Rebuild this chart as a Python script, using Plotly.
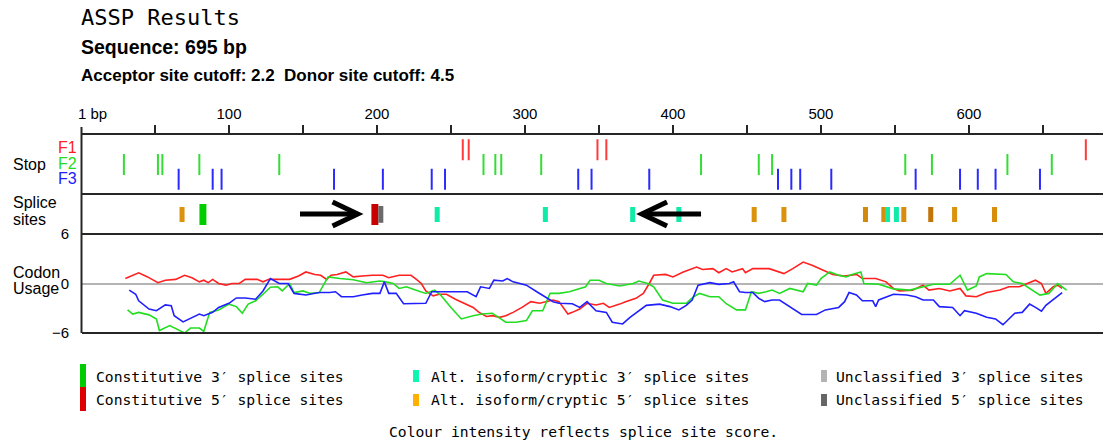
import plotly.graph_objects as go

# ---------------- data ----------------
seq_len = 695
acceptor_cutoff = 2.2
donor_cutoff = 4.5

tick_vals = [50, 100, 150, 200, 250, 300, 350, 400, 450, 500, 550, 600, 650]
tick_text = ["", "100", "", "200", "", "300", "", "400", "", "500", "", "600", ""]

# stop codon positions (bp) in each frame
stop_f1 = [258, 262, 349, 355, 679]
stop_f2 = [29, 52, 55, 80, 134, 272, 280, 284, 311, 419, 458, 467, 557, 575, 626, 656]
stop_f3 = [66, 89, 95, 171, 204, 237, 246, 336, 345, 384, 471, 480, 486, 507, 564,
           594, 606, 618, 648]

# splice sites (bp)
const3_pos = [82.4]
const5_pos = [198.6]
alt3_pos = [240.7, 313.8, 372.8, 404.0, 545.0, 551.0]
alt5_pos = [68.3, 454.9, 475.0, 530.1, 542.5, 556.0, 574.2, 590.3, 617.3]
alt5_score = [0.3, 0.3, 0.3, 0.5, 0.4, 0.4, 0.9, 0.3, 0.4]
uncl5_pos = [202.6]

# codon usage (bp, score) per frame
codon_f1 = [(30, 0.6), (39, 1.3), (45, 0.8), (52, 0.1), (57, 0.4), (64, 0.5), (70, 1.0),
            (75, 0.7), (80, 0.2), (83, 0.4), (86, 0.1), (89, 0.5), (93, 0.0), (98, -0.2),
            (102, 0.0), (107, 0.0), (111, 0.5), (119, 0.5), (123, 0.2), (127, 0.5),
            (141, 0.5), (147, 0.9), (152, 1.4), (158, 1.1), (162, 1.0), (166, 0.5),
            (169, 1.0), (173, 1.1), (179, 1.4), (184, 0.8), (190, 0.9), (197, 1.0),
            (204, 1.0), (208, 0.7), (215, 1.0), (223, 1.0), (226, 0.6), (230, 0.0),
            (233, -0.9), (238, -1.5), (242, -1.3), (247, -1.3), (253, -1.9), (260, -2.5),
            (265, -2.9), (269, -3.5), (274, -4.0), (278, -3.9), (283, -4.1), (287, -3.9),
            (292, -3.5), (298, -2.9), (304, -2.2), (310, -2.4), (314, -2.2), (319, -2.0),
            (323, -2.2), (327, -3.3), (329, -3.7), (332, -3.5), (337, -3.1), (342, -2.4),
            (348, -2.6), (353, -2.4), (357, -2.9), (364, -2.5), (368, -2.2), (375, -1.8),
            (380, -1.2), (384, 0.0), (387, 1.0), (395, 1.1), (400, 0.8), (407, 1.4),
            (416, 2.0), (420, 1.7), (427, 1.8), (431, 1.3), (436, 1.8), (440, 1.4),
            (447, 1.8), (449, 1.3), (454, 1.8), (465, 1.8), (470, 1.5), (475, 1.2),
            (481, 1.8), (488, 2.6), (494, 2.2), (501, 1.6), (508, 1.1), (516, 0.9),
            (524, 1.1), (528, 0.6), (537, 0.6), (544, 0.2), (549, -0.6), (553, -0.9),
            (562, -0.8), (569, -0.2), (573, -0.8), (580, -0.6), (587, -0.9), (594, -0.6),
            (598, -1.5), (605, -1.6), (612, -1.1), (621, -0.8), (627, -0.4), (634, -0.4),
            (639, 0.0), (645, 0.4), (649, 0.0), (652, -1.2), (657, -0.4), (660, -0.2),
            (663, -0.6)]
codon_f2 = [(31.5, -3.2), (35, -3.7), (39, -3.5), (46, -3.8), (51, -4.3), (53, -5.7),
            (60, -5.1), (64, -5.5), (70, -6.0), (74, -5.4), (80, -5.4), (83, -5.8),
            (87, -3.5), (93, -3.2), (100, -2.5), (105, -2.8), (109, -3.6), (113, -2.5),
            (118, -2.1), (123, -1.3), (128, -0.45), (133, -0.4), (136, -0.9), (141, 0.0),
            (144, -1.1), (150, -0.9), (155, -1.2), (161, -1.1), (167, 0.8), (175, 0.6),
            (184, 0.45), (193, 0.1), (202, 0.3), (206, 0.2), (211, 0.0), (215, -0.6),
            (220, -0.4), (226, -0.8), (233, -1.2), (239, -0.8), (243, -1.4), (250, -2.9),
            (257, -4.3), (265, -3.9), (271, -3.7), (278, -3.6), (282, -4.1), (287, -4.7),
            (294, -4.7), (301, -4.5), (305, -3.3), (312, -3.3), (317, -1.2), (323, -1.2),
            (330, -1.0), (337, -0.6), (341, -0.4), (344, 0.4), (350, 0.4), (355, 0.0),
            (364, -0.3), (373, 0.0), (377, 0.3), (383, 0.0), (387, -0.4), (393, -2.0),
            (400, -2.4), (409, -2.4), (414, -1.6), (418, -1.2), (425, -1.6), (431, -1.6),
            (436, -2.45), (443, -3.2), (449, -3.2), (453, -1.0), (458, -1.2), (463, -1.0),
            (467, -0.8), (472, -1.2), (479, -0.6), (488, -1.0), (491, 0.0), (497, -0.2),
            (500, 0.6), (506, 1.4), (512, 1.0), (517, 0.8), (521, 1.1), (527, 1.4),
            (529, 0.0), (539, -0.1), (549, -0.65), (560, -0.8), (569, -0.4), (576, -0.1),
            (587, -0.1), (594, 1.0), (599, -0.8), (605, -0.3), (607, 0.8), (612, 1.2),
            (625, 1.1), (630, 0.2), (636, 0.0), (641, -0.6), (648, -1.4), (654, -1.2),
            (660, 0.0), (666, -0.8)]
codon_f3 = [(32.6, -0.8), (37, -1.3), (39, -2.1), (46, -3.1), (51, -3.3), (57, -2.6),
            (61, -2.7), (63, -3.9), (69, -4.65), (75, -4.1), (80, -3.7), (83, -3.9),
            (89, -3.5), (93, -2.9), (100, -2.4), (105, -1.75), (111, -1.75), (118, -1.9),
            (123, -0.9), (128, 0.6), (134, 0.0), (140, 0.0), (144, -1.2), (152, -1.4),
            (161, -1.1), (168, -1.1), (172, -1.0), (176, -1.6), (184, -1.6), (190, -1.4),
            (197, -1.2), (202, -1.2), (205, 0.2), (208, -1.2), (213, -1.2), (218, -2.45),
            (226, -2.45), (233, -2.4), (237, -1.0), (241, -1.0), (253, -1.0), (261, -1.0),
            (267, -1.6), (270, -0.4), (276, -0.6), (279, 0.4), (285, 0.3), (288, 0.6),
            (292, 0.2), (301, -0.2), (308, -1.0), (314, -1.6), (319, -2.2), (323, -2.4),
            (332, -2.45), (337, -2.9), (342, -2.2), (348, -3.3), (355, -3.5), (359, -4.7),
            (366, -4.9), (371, -4.1), (377, -3.3), (382, -2.65), (391, -2.5), (398, -2.8),
            (404, -3.2), (409, -2.65), (413, -2.0), (417, -0.2), (425, 0.1), (431, -0.1),
            (438, 0.0), (441, 0.2), (445, -1.0), (449, -1.1), (454, -1.1), (458, -1.8),
            (462, -2.2), (467, -2.0), (472, -2.0), (476, -2.45), (481, -3.1), (487, -3.75),
            (497, -3.75), (500, -3.5), (503, -3.2), (512, -2.9), (516, -2.2), (519, -1.1),
            (524, -1.4), (528, -2.1), (535, -2.1), (537, -2.8), (539, -2.0), (549, -1.3),
            (558, -1.4), (564, -1.6), (569, -2.0), (576, -2.0), (580, -2.8), (589, -2.9),
            (594, -3.9), (597, -3.3), (605, -3.6), (612, -4.1), (618, -4.3), (623, -5.0),
            (626, -4.5), (631, -3.6), (636, -3.5), (641, -2.5), (645, -2.9), (649, -3.35),
            (652, -2.65), (659, -1.6), (663, -1.1)]

# annotation arrows (tail bp, tip bp)
arrows = [(148, 187), (419, 379)]

legend_items = [
    ("Constitutive 3′ splice sites", "#00cc00"),
    ("Constitutive 5′ splice sites", "#dd0000"),
    ("Alt. isoform/cryptic 3′ splice sites", "#10f5b0"),
    ("Alt. isoform/cryptic 5′ splice sites", "#ffb000"),
    ("Unclassified 3′ splice sites", "#b4b4b4"),
    ("Unclassified 5′ splice sites", "#666666"),
]

# ---------------- geometry ----------------
W, H = 1103, 442
L = 82


def px(x):
    return (x - L) / (W - L)


def py(y):
    return 1 - y / H


MONO = "DejaVu Sans Mono"
SANS = "Liberation Sans"

fig = go.Figure()

# stop codons
for vals, row, col in [(stop_f1, 3, "#ff3a3a"), (stop_f2, 2, "#33dd33"), (stop_f3, 1, "#2a2aff")]:
    fig.add_trace(go.Scatter(
        x=vals, y=[row] * len(vals), mode="markers", yaxis="y",
        marker=dict(symbol="line-ns", size=15, line=dict(width=2, color=col)),
        showlegend=False, hoverinfo="skip"))

# splice sites
LO, HI = 0.3, 0.675
CLO, CHI = 0.225, 0.75


def orange_shade(s):
    a = (232, 162, 16)
    b = (190, 112, 8)
    return "rgb(%d,%d,%d)" % tuple(round(a[i] + (b[i] - a[i]) * s) for i in range(3))


def add_bars(pos, lo, hi, width, colors):
    fig.add_trace(go.Bar(
        x=pos, y=[hi - lo] * len(pos), base=[lo] * len(pos), width=width,
        marker=dict(color=colors, line=dict(width=0)), yaxis="y2",
        showlegend=False, hoverinfo="skip"))


add_bars(alt5_pos, LO, HI, 3.4, [orange_shade(s) for s in alt5_score])
add_bars(alt3_pos, LO, HI, 3.4, "#10eca8")
add_bars(const3_pos, CLO, CHI, 4.7, "#00cc00")
add_bars(const5_pos, CLO, CHI, 4.7, "#c80000")
add_bars(uncl5_pos, 0.28, 0.70, 3.4, "#6a6a6a")

# codon usage
for data, col in [(codon_f1, "#ff2020"), (codon_f2, "#22dd22"), (codon_f3, "#2020ff")]:
    fig.add_trace(go.Scatter(
        x=[d[0] for d in data], y=[d[1] for d in data], mode="lines", yaxis="y3",
        line=dict(color=col, width=1.6), showlegend=False, hoverinfo="skip"))

LINE = "#262626"
shapes = []
# panel separators
for y in (194, 234, 333):
    shapes.append(dict(type="line", xref="paper", yref="paper", x0=0, x1=1,
                       y0=py(y), y1=py(y), line=dict(color=LINE, width=2)))
shapes.append(dict(type="line", xref="paper", yref="paper", x0=px(81.5), x1=px(81.5),
                   y0=py(127), y1=py(333), line=dict(color=LINE, width=2)))

# arrows
for tail, tip in arrows:
    d = 1 if tip > tail else -1
    back = tip - d * 17
    shapes.append(dict(type="path", xref="x", yref="y2",
                       path=f"M{tail},0.5 L{tip - d * 2},0.5",
                       line=dict(color="black", width=5)))
    shapes.append(dict(type="path", xref="x", yref="y2",
                       path=f"M{back},0.80 L{tip},0.5 L{back},0.20",
                       line=dict(color="black", width=5)))

# legend markers
leg_boxes = [
    (80, 86, 364, 387), (80, 86, 387, 411),
    (413, 419, 370, 382), (413, 419, 394, 406),
    (821, 827, 370, 382), (821, 827, 394, 406),
]
for (x0, x1, y0, y1), (_, col) in zip(leg_boxes, legend_items):
    shapes.append(dict(type="rect", xref="paper", yref="paper", x0=px(x0), x1=px(x1),
                       y0=py(y1), y1=py(y0), fillcolor=col, line=dict(width=0)))

annotations = []


def text(s, x, y, size, family=SANS, color="black", xanchor="left"):
    annotations.append(dict(text=s, x=px(x), y=py(y), xref="paper", yref="paper",
                            xanchor=xanchor, yanchor="middle", showarrow=False,
                            font=dict(family=family, size=size, color=color)))


text("ASSP Results", 79, 18, 22, family=MONO)
text(f"<b>Sequence: {seq_len} bp</b>", 79, 47, 19.5)
text(f"<b>Acceptor site cutoff: {acceptor_cutoff}  Donor site cutoff: {donor_cutoff}</b>",
     79, 75, 17)
text("1 bp", 76, 114, 15)
text("F1", 79, 148, 16, color="#ff2020", xanchor="right")
text("F2", 79, 163, 16, color="#22dd22", xanchor="right")
text("F3", 79, 178, 16, color="#2020ff", xanchor="right")
text("Stop", 11, 164, 16)
text("Splice", 11, 203, 16)
text("sites", 11, 219, 16)
text("Codon", 11, 272, 16)
text("Usage", 11, 288, 16)

leg_text_pos = [(94, 376), (94, 399), (429, 376), (429, 399), (834, 376), (834, 399)]
for (x, y), (label, _) in zip(leg_text_pos, legend_items):
    text(label, x, y, 14.7, family=MONO)
text("Colour intensity reflects splice site score.", 583, 431, 14.7, family=MONO,
     xanchor="center")

fig.update_layout(
    width=W, height=H, margin=dict(l=L, r=0, t=0, b=0, autoexpand=False),
    paper_bgcolor="white", plot_bgcolor="white",
    barmode="overlay", showlegend=False,
    shapes=shapes, annotations=annotations,
    xaxis=dict(domain=[0, 1], range=[0.7, 690.6], anchor="y", side="top",
               showline=True, linecolor=LINE, linewidth=2, mirror=False,
               ticks="outside", ticklen=8, tickwidth=2, tickcolor=LINE,
               tickvals=tick_vals, ticktext=tick_text, automargin=False,
               tickfont=dict(family=SANS, size=15, color="black"),
               showgrid=False, zeroline=False, fixedrange=True),
    yaxis=dict(domain=[py(194), py(135)], range=[0, 4], visible=False, anchor="x",
               automargin=False),
    yaxis2=dict(domain=[py(234), py(194)], range=[0, 1], visible=False, anchor="x",
                automargin=False),
    yaxis3=dict(domain=[py(333), py(234)], range=[-6, 6], anchor="x", automargin=False,
                showline=False, showgrid=False, zeroline=True,
                zerolinecolor="#b4b4b4", zerolinewidth=2,
                tickvals=[-6, 0, 6], ticktext=["−6", "0", "6"],
                ticks="outside", ticklen=9, tickcolor="rgba(0,0,0,0)",
                tickfont=dict(family=SANS, size=15, color="black")),
)

fig.write_html("out.html", config={"displayModeBar": False},
               post_script="document.body.style.margin='0';")
